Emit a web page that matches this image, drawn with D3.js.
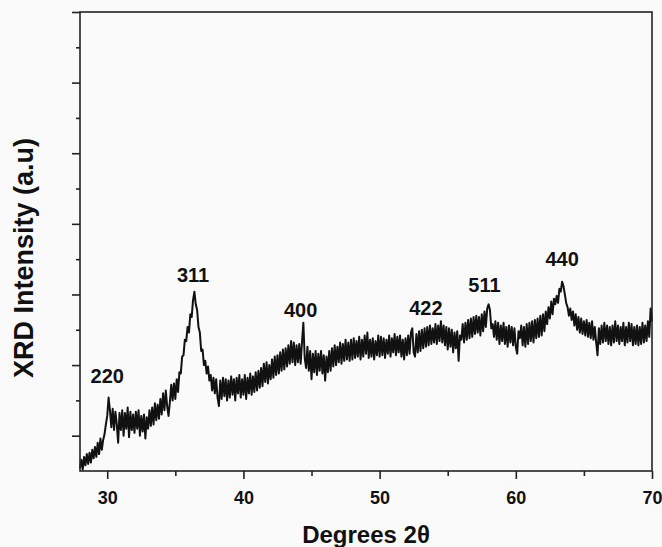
<!DOCTYPE html>
<html>
<head>
<meta charset="utf-8">
<script src="https://cdn.jsdelivr.net/npm/d3@7"></script>
<style>
  body { margin: 0; background: #fafafa; }
  svg { font-family: "Liberation Sans", Arial, sans-serif; font-weight: bold; }
</style>
</head>
<body>
<script>
'use strict';

// scan grid: 28.0 to 70.0 deg, step 0.1
const scanStart = 28, scanStep = 0.1

// intensity, one row per degree
const intensity = [
  4, 16, 2, 20, 8, 24, 10, 26, 12, 30,              // 28
  18, 34, 20, 40, 24, 46, 30, 44, 52, 66,           // 29
  78, 104, 86, 62, 88, 58, 84, 66, 40, 82,          // 30
  58, 86, 50, 82, 60, 90, 48, 84, 58, 80,           // 31
  54, 84, 60, 86, 50, 78, 56, 80, 46, 76,           // 32
  60, 86, 64, 90, 66, 96, 72, 94, 74, 102,          // 33
  80, 110, 86, 114, 92, 78, 98, 122, 100, 124,      // 34
  102, 130, 112, 140, 138, 162, 164, 186, 184, 204, // 35
  196, 222, 218, 242, 254, 236, 228, 204, 196, 170, // 36
  172, 150, 156, 138, 148, 128, 136, 114, 132, 110, // 37
  130, 104, 92, 128, 102, 132, 106, 130, 100, 128,  // 38
  104, 134, 108, 130, 100, 132, 110, 136, 104, 130, // 39
  108, 136, 102, 132, 110, 138, 108, 134, 112, 140, // 40
  114, 142, 118, 146, 120, 152, 126, 154, 124, 150, // 41
  130, 158, 132, 162, 136, 164, 138, 168, 142, 172, // 42
  144, 174, 148, 178, 152, 184, 154, 182, 150, 178, // 43
  154, 180, 152, 182, 210, 160, 146, 176, 142, 170, // 44
  130, 166, 140, 170, 136, 166, 142, 170, 138, 164, // 45
  128, 162, 140, 170, 142, 174, 148, 178, 150, 176, // 46
  154, 182, 152, 180, 156, 186, 158, 182, 156, 186, // 47
  158, 188, 160, 184, 162, 190, 158, 186, 162, 192, // 48
  166, 196, 160, 186, 162, 188, 158, 184, 164, 192, // 49
  162, 190, 164, 188, 160, 186, 166, 192, 162, 188, // 50
  168, 194, 164, 190, 168, 192, 162, 186, 158, 188, // 51
  164, 192, 166, 196, 202, 168, 162, 194, 168, 198, // 52
  170, 200, 174, 202, 176, 204, 178, 206, 180, 202, // 53
  182, 208, 180, 206, 184, 212, 182, 206, 178, 204, // 54
  172, 202, 176, 200, 168, 196, 174, 198, 156, 192, // 55
  186, 208, 182, 210, 186, 214, 188, 216, 190, 218, // 56
  194, 220, 196, 218, 192, 222, 198, 226, 204, 230, // 57
  236, 228, 202, 208, 190, 212, 186, 210, 180, 206, // 58
  184, 210, 180, 204, 176, 206, 182, 204, 178, 202, // 59
  176, 166, 198, 188, 206, 178, 204, 176, 208, 180, // 60
  210, 184, 212, 182, 214, 188, 216, 190, 220, 192, // 61
  222, 198, 226, 208, 232, 216, 240, 222, 244, 236, // 62
  248, 238, 258, 254, 268, 262, 250, 238, 232, 220, // 63
  230, 214, 226, 206, 222, 200, 218, 196, 216, 194, // 64
  212, 192, 214, 190, 210, 188, 212, 186, 204, 182, // 65
  164, 202, 180, 206, 182, 210, 184, 206, 180, 204, // 66
  178, 206, 182, 212, 184, 206, 180, 204, 184, 210, // 67
  178, 204, 182, 210, 184, 208, 178, 204, 180, 206, // 68
  178, 204, 180, 210, 182, 206, 184, 212, 190, 230, // 69
  212
]

const peakLabels = ["220", "311", "400", "422", "511", "440"]
const peakAngles = [30.0, 36.3, 44.2, 53.4, 57.7, 63.4]
const labelLevels = [125, 268, 218, 221, 253, 290]

const xTicks = [30, 40, 50, 60, 70]
const xMinor = [35, 45, 55, 65]
const yTicks = [50, 150, 250, 350, 450, 550, 650]
const yMinor = [100, 200, 300, 400, 500, 600]

const m = { left: 80, right: 652, top: 12, bottom: 471 }

const svg = d3.select("body").append("svg")
    .attr("width", 662)
    .attr("height", 547)

const x = d3.scaleLinear().domain([28, 70]).range([m.left, m.right])
const y = d3.scaleLinear().domain([0, 650]).range([m.bottom, m.top])

const points = intensity.map((v, i) => [scanStart + i * scanStep, v])

svg.append("path")
    .datum(points)
    .attr("fill", "none")
    .attr("stroke", "#111")
    .attr("stroke-width", 2)
    .attr("stroke-linejoin", "round")
    .attr("d", d3.line().x(d => x(d[0])).y(d => y(d[1])))

// frame
svg.append("rect")
    .attr("x", m.left).attr("y", m.top)
    .attr("width", m.right - m.left).attr("height", m.bottom - m.top)
    .attr("fill", "none").attr("stroke", "#222").attr("stroke-width", 1.6)

// x axis
svg.append("g")
    .attr("transform", "translate(0," + m.bottom + ")")
    .call(d3.axisBottom(x).tickValues(xMinor).tickSize(5).tickFormat(""))
    .call(g => g.select(".domain").remove())
    .call(g => g.selectAll("line").attr("stroke", "#222").attr("stroke-width", 1.6))

svg.append("g")
    .attr("transform", "translate(0," + m.bottom + ")")
    .call(d3.axisBottom(x).tickValues(xTicks).tickSize(8).tickPadding(12))
    .call(g => g.select(".domain").remove())
    .call(g => g.selectAll("line").attr("stroke", "#222").attr("stroke-width", 1.6))
    .call(g => g.selectAll("text")
        .attr("font-size", "18px").attr("font-weight", "bold")
        .attr("font-family", "Liberation Sans, Arial, sans-serif").attr("fill", "#111"))

// y axis, no labels
svg.append("g")
    .attr("transform", "translate(" + m.left + ",0)")
    .call(d3.axisLeft(y).tickValues(yMinor).tickSize(4).tickFormat(""))
    .call(g => g.select(".domain").remove())
    .call(g => g.selectAll("line").attr("stroke", "#222").attr("stroke-width", 1.6))

svg.append("g")
    .attr("transform", "translate(" + m.left + ",0)")
    .call(d3.axisLeft(y).tickValues(yTicks).tickSize(8).tickFormat(""))
    .call(g => g.select(".domain").remove())
    .call(g => g.selectAll("line").attr("stroke", "#222").attr("stroke-width", 1.6))

// peak labels
svg.selectAll(".peak")
    .data(peakLabels)
    .enter()
    .append("text")
    .attr("class", "peak")
    .attr("x", (d, i) => x(peakAngles[i]))
    .attr("y", (d, i) => y(labelLevels[i]))
    .attr("text-anchor", "middle")
    .attr("font-size", "20px")
    .attr("fill", "#111")
    .text(d => d)

svg.append("text")
    .attr("x", (m.left + m.right) / 2)
    .attr("y", 543)
    .attr("text-anchor", "middle")
    .attr("font-size", "24px")
    .attr("fill", "#111")
    .text("Degrees 2θ")

svg.append("text")
    .attr("transform", "translate(33,258) rotate(-90)")
    .attr("text-anchor", "middle")
    .attr("font-size", "27px")
    .attr("fill", "#111")
    .text("XRD Intensity (a.u)")
</script>
</body>
</html>
